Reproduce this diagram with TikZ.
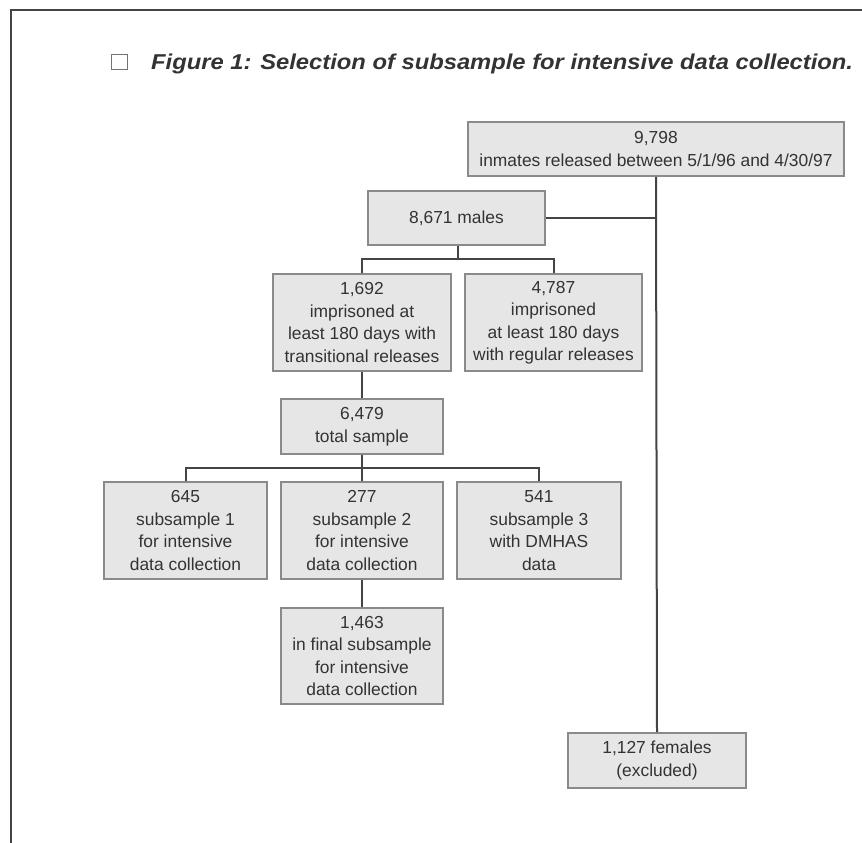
\documentclass[tikz,border=0pt]{standalone}
\usepackage{fontspec}
\setmainfont{Liberation Sans}
\begin{document}
\begin{tikzpicture}[x=1pt,y=-1pt,
  box/.style={draw=boxline,fill=boxfill,line width=1.8pt,inner sep=0pt,align=center,
    text=txt,font=\fontsize{17.4}{22.5}\selectfont},
  conn/.style={draw=linecol,line width=2pt}]
\definecolor{boxfill}{HTML}{E6E6E6}
\definecolor{boxline}{HTML}{8A8A8A}
\definecolor{linecol}{HTML}{444444}
\definecolor{txt}{HTML}{333333}
\useasboundingbox (0,0) rectangle (862,843);
% frame
\draw[linecol,line width=2.5pt] (11,843) -- (11,10) -- (862,10);
% title
\draw[draw=black!55,line width=1pt,fill=white] (111,55) rectangle (127,70);
\node[anchor=base west,inner sep=0pt,text=txt,font=\fontsize{21.5}{24}\selectfont\bfseries\itshape] (title) at (151,70) {\scalebox{1.105}[1]{Figure 1: Selection of subsample for intensive data collection.}};
% boxes
\node[box,minimum width=376pt,minimum height=54pt] (top) at (656,149) {9,798\\inmates released between 5/1/96 and 4/30/97};
\node[box,minimum width=177pt,minimum height=54pt] (males) at (456.5,218) {8,671 males};
\node[box,minimum width=178pt,minimum height=97pt] (trans) at (362,322.5) {1,692\\imprisoned at\\least 180 days with\\transitional releases};
\node[box,minimum width=177pt,minimum height=97pt] (reg) at (553.5,322.5) {4,787\\imprisoned\\at least 180 days\\with regular releases};
\node[box,minimum width=162pt,minimum height=55pt] (total) at (362,426.5) {6,479\\total sample};
\node[box,minimum width=163pt,minimum height=97pt] (s1) at (185.5,530.5) {645\\subsample 1\\for intensive\\data collection};
\node[box,minimum width=162pt,minimum height=97pt] (s2) at (362,530.5) {277\\subsample 2\\for intensive\\data collection};
\node[box,minimum width=164pt,minimum height=97pt] (s3) at (539,530.5) {541\\subsample 3\\with DMHAS\\data};
\node[box,minimum width=162pt,minimum height=96pt] (final) at (362,656) {1,463\\in final subsample\\for intensive\\data collection};
\node[box,minimum width=178pt,minimum height=55pt] (fem) at (657,760.5) {1,127 females\\(excluded)};
% connectors
\coordinate (j) at (fem.north |- males.east);
\draw[conn] (top.south) -- (fem.north);
\draw[conn] (males.east) -- (j);
\coordinate (b1) at ([xshift=1.5pt]males.south |- 0,259);
\draw[conn] ([xshift=1.5pt]males.south) -- (b1);
\draw[conn] (trans.north) -- (trans.north |- b1) -- (reg.north |- b1) -- (reg.north);
\draw[conn] (trans.south) -- (total.north);
\coordinate (b2) at (total.south |- 0,468);
\draw[conn] (total.south) -- (b2);
\draw[conn] (s1.north) -- (s1.north |- b2) -- (s3.north |- b2) -- (s3.north);
\draw[conn] (b2) -- (s2.north);
\draw[conn] (s2.south) -- (final.north);
\end{tikzpicture}
\end{document}
